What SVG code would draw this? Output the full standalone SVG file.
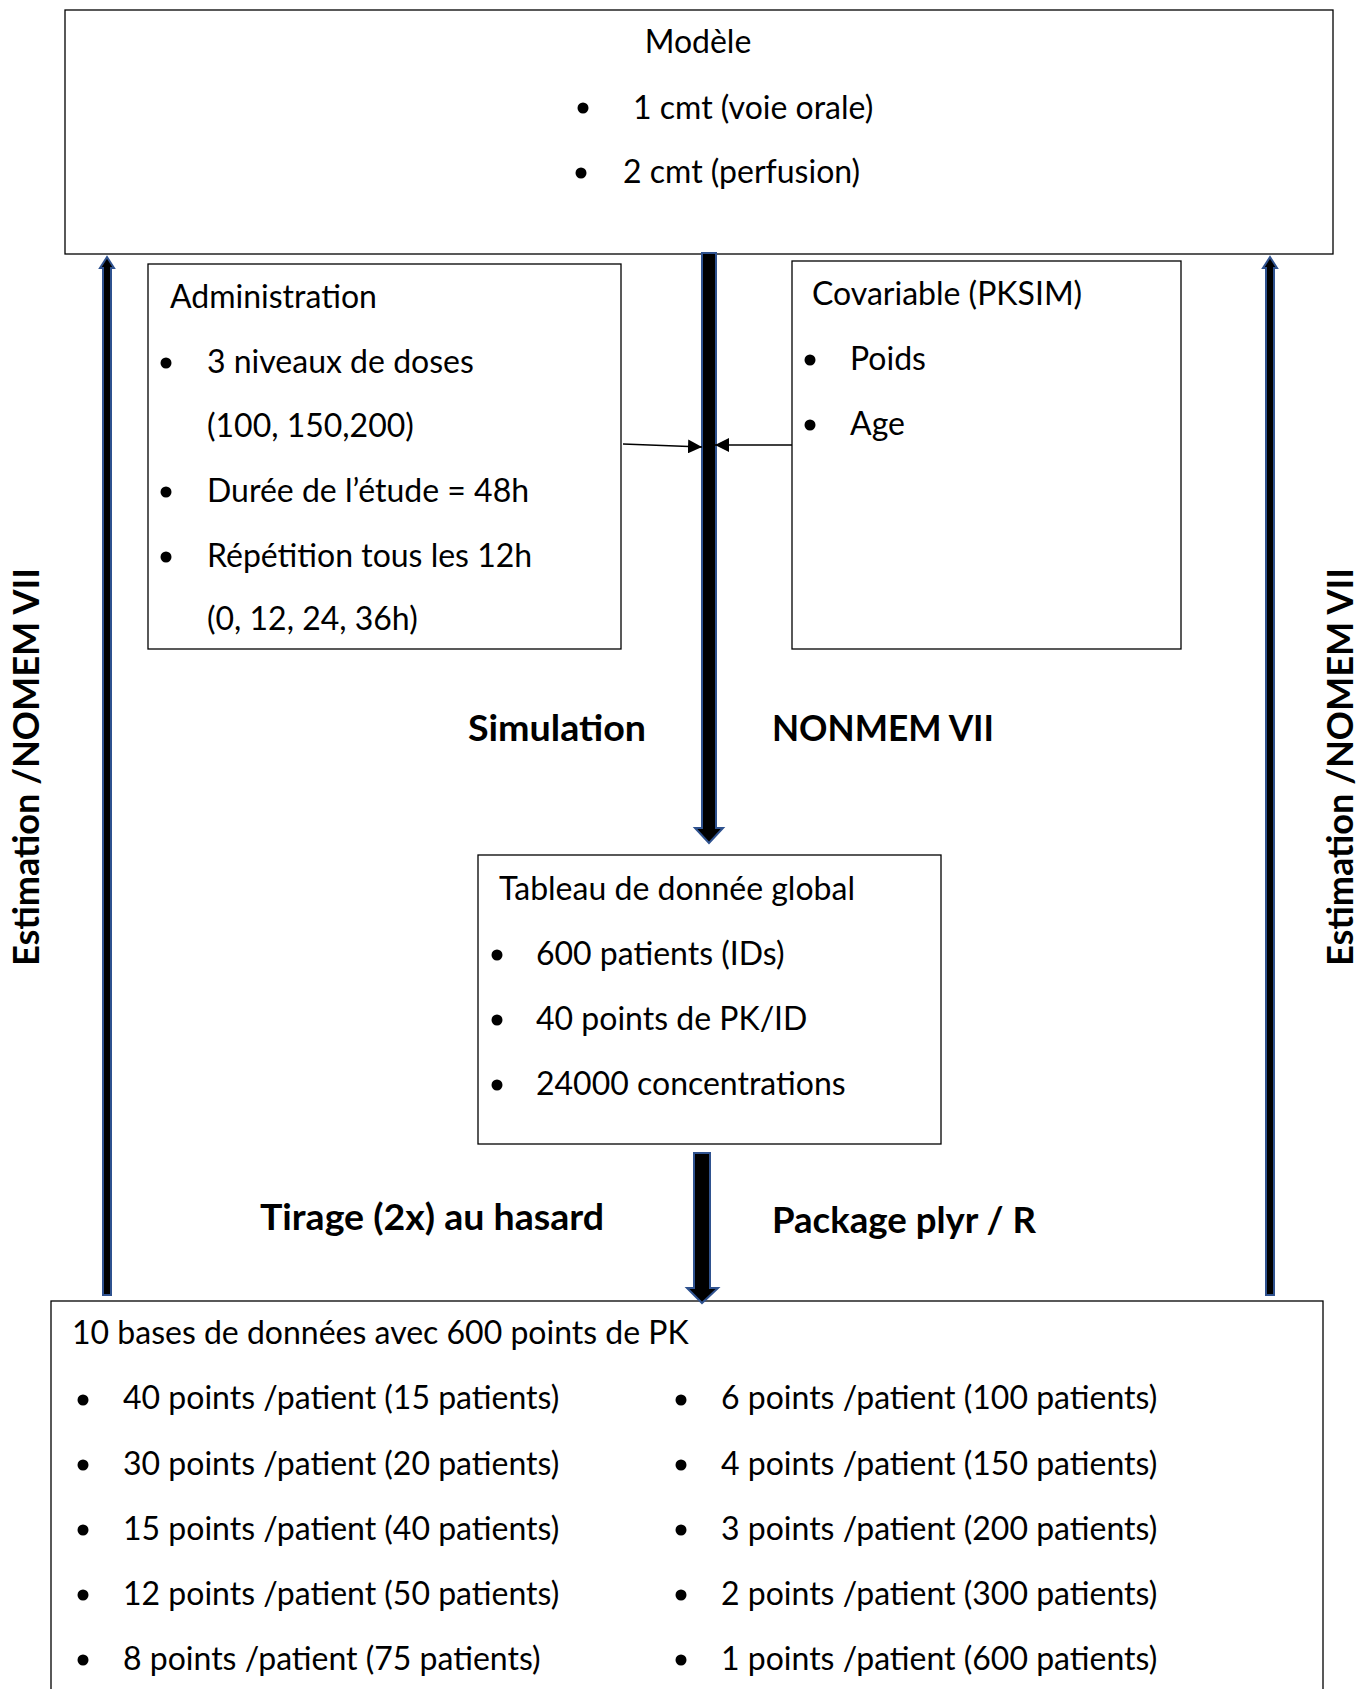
<svg xmlns="http://www.w3.org/2000/svg" width="1370" height="1689" viewBox="0 0 1370 1689">
<style>
.box{fill:#fff;stroke:#000;stroke-width:1.3}
.t{font-family:Lato,"Open Sans","Liberation Sans",sans-serif;font-size:32px;fill:#000}
.b{font-family:Lato,"Open Sans","Liberation Sans",sans-serif;font-size:36px;font-weight:bold;fill:#000}
.big{fill:#000;stroke:#2F528F;stroke-width:2}
.thin{stroke:#000;stroke-width:1.3;fill:none}
circle{fill:#000}
</style>
<defs>
<marker id="ah2" viewBox="0 0 10 10" refX="10" refY="5" markerWidth="14" markerHeight="14" markerUnits="userSpaceOnUse" orient="auto">
<path d="M0,0 L10,5 L0,10 z" fill="#000"/>
</marker>
</defs>
<rect width="1370" height="1689" fill="#fff"/>
<g id="modele">
<rect class="box" x="65" y="10" width="1268" height="244"/>
<text class="t" x="698" y="53" text-anchor="middle">Modèle</text>
<circle cx="583" cy="108" r="5.5"/>
<text class="t" x="633" y="119">1 cmt (voie orale)</text>
<circle cx="581" cy="173" r="5.5"/>
<text class="t" x="623" y="183">2 cmt (perfusion)</text>
</g>
<g id="administration">
<rect class="box" x="148" y="264" width="473" height="385"/>
<text class="t" x="170" y="308">Administration</text>
<circle cx="166" cy="363" r="5.5"/>
<text class="t" x="207" y="373">3 niveaux de doses</text>
<text class="t" x="207" y="437">(100, 150,200)</text>
<circle cx="166" cy="492" r="5.5"/>
<text class="t" x="207" y="502">Durée de l’étude = 48h</text>
<circle cx="166" cy="557" r="5.5"/>
<text class="t" x="207" y="567">Répétition tous les 12h</text>
<text class="t" x="207" y="630">(0, 12, 24, 36h)</text>
</g>
<g id="covariable">
<rect class="box" x="792" y="261" width="389" height="388"/>
<text class="t" x="812" y="305">Covariable (PKSIM)</text>
<circle cx="810" cy="360" r="5.5"/>
<text class="t" x="850" y="370">Poids</text>
<circle cx="810" cy="425" r="5.5"/>
<text class="t" x="850" y="435">Age</text>
</g>
<g id="tableau">
<rect class="box" x="478" y="855" width="463" height="289"/>
<text class="t" x="499" y="900">Tableau de donnée global</text>
<circle cx="497" cy="955" r="5.5"/>
<text class="t" x="536" y="965">600 patients (IDs)</text>
<circle cx="497" cy="1020" r="5.5"/>
<text class="t" x="536" y="1030">40 points de PK/ID</text>
<circle cx="497" cy="1085" r="5.5"/>
<text class="t" x="536" y="1095">24000 concentrations</text>
</g>
<g id="bases">
<rect class="box" x="51" y="1301" width="1272" height="400"/>
<text class="t" x="72" y="1344">10 bases de données avec 600 points de PK</text>
<circle cx="83" cy="1400" r="5.5"/>
<text class="t" x="123" y="1409">40 points /patient (15 patients)</text>
<circle cx="83" cy="1465" r="5.5"/>
<text class="t" x="123" y="1475">30 points /patient (20 patients)</text>
<circle cx="83" cy="1530" r="5.5"/>
<text class="t" x="123" y="1540">15 points /patient (40 patients)</text>
<circle cx="83" cy="1595" r="5.5"/>
<text class="t" x="123" y="1605">12 points /patient (50 patients)</text>
<circle cx="83" cy="1660" r="5.5"/>
<text class="t" x="123" y="1670">8 points /patient (75 patients)</text>
<circle cx="681" cy="1400" r="5.5"/>
<text class="t" x="721" y="1409">6 points /patient (100 patients)</text>
<circle cx="681" cy="1465" r="5.5"/>
<text class="t" x="721" y="1475">4 points /patient (150 patients)</text>
<circle cx="681" cy="1530" r="5.5"/>
<text class="t" x="721" y="1540">3 points /patient (200 patients)</text>
<circle cx="681" cy="1595" r="5.5"/>
<text class="t" x="721" y="1605">2 points /patient (300 patients)</text>
<circle cx="681" cy="1660" r="5.5"/>
<text class="t" x="721" y="1670">1 points /patient (600 patients)</text>
</g>
<g id="connectors">
<path class="big" d="M702,253 L716,253 L716,828 L723,828 L709,843 L695,828 L702,828 Z"/>
<path class="big" d="M694,1153 L710,1153 L710,1288 L718,1288 L702,1303 L687,1288 L694,1288 Z"/>
<path class="big" d="M103,1295 L103,268 L100,268 L107,257 L114,268 L111,268 L111,1295 Z" stroke-width="2.5"/>
<path class="big" d="M1266,1295 L1266,268 L1263,268 L1270,257 L1277,268 L1274,268 L1274,1295 Z" stroke-width="2.5"/>
<line class="thin" x1="623" y1="444" x2="702" y2="447" marker-end="url(#ah2)"/>
<line class="thin" x1="792" y1="445" x2="715" y2="445" marker-end="url(#ah2)"/>
</g>
<g id="labels">
<text class="b" x="557" y="741" text-anchor="middle" textLength="178" lengthAdjust="spacingAndGlyphs">Simulation</text>
<text class="b" x="883" y="741" text-anchor="middle" textLength="222" lengthAdjust="spacingAndGlyphs">NONMEM VII</text>
<text class="b" x="432" y="1230" text-anchor="middle" textLength="344" lengthAdjust="spacingAndGlyphs">Tirage (2x) au hasard</text>
<text class="b" x="904" y="1233" text-anchor="middle" textLength="264" lengthAdjust="spacingAndGlyphs">Package plyr / R</text>
<text class="b" transform="translate(39,767) rotate(-90)" text-anchor="middle" textLength="398" lengthAdjust="spacingAndGlyphs">Estimation /NOMEM VII</text>
<text class="b" transform="translate(1353,767) rotate(-90)" text-anchor="middle" textLength="398" lengthAdjust="spacingAndGlyphs">Estimation /NOMEM VII</text>
</g>
</svg>
